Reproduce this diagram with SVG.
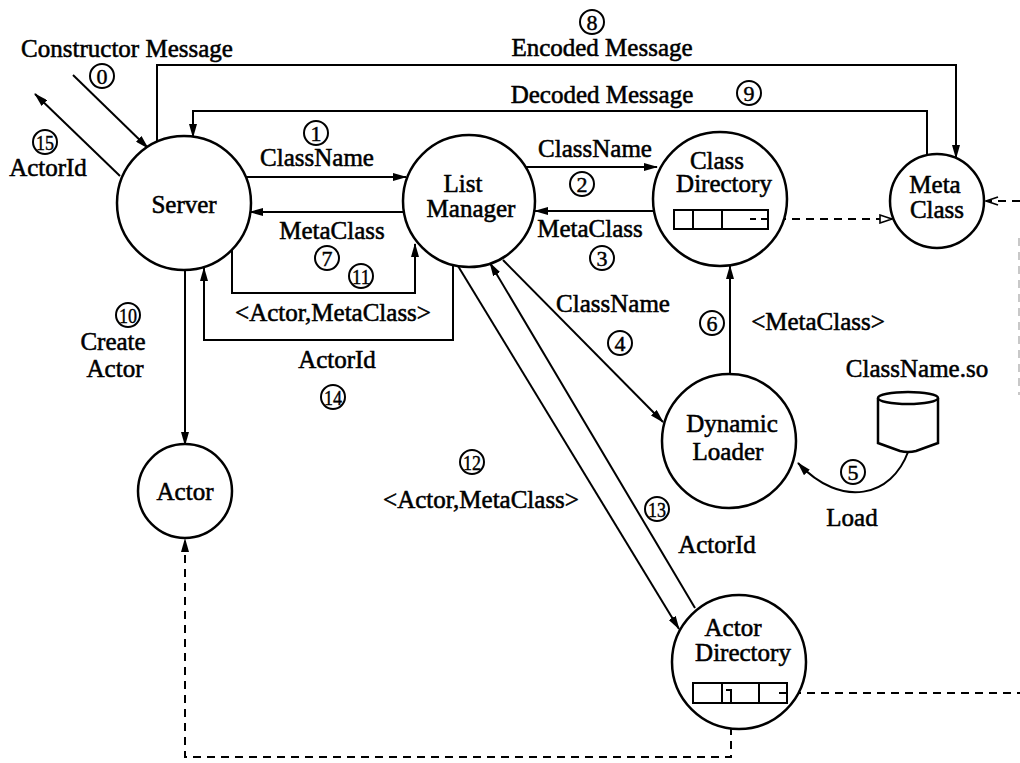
<svg xmlns="http://www.w3.org/2000/svg" width="1020" height="763" viewBox="0 0 1020 763">
<style>
text{font-family:"Liberation Serif","Times New Roman",serif;font-size:25px;fill:#000;stroke:#000;stroke-width:0.55;text-anchor:middle}
.node{fill:#fff;stroke:#000;stroke-width:2.5}
.ln{fill:none;stroke:#000;stroke-width:2}
.ds{fill:none;stroke:#000;stroke-width:2;stroke-dasharray:8 6}
.num circle{fill:none;stroke:#000;stroke-width:2}
.num text{font-size:22px;stroke-width:0.45}
.tbl{fill:none;stroke:#000;stroke-width:2}
</style>
<defs>
<marker id="ah" viewBox="0 0 14 8" refX="13" refY="4" markerWidth="14" markerHeight="8" markerUnits="userSpaceOnUse" orient="auto"><path d="M0,0 L14,4 L0,8 Z" fill="#000"/></marker>
<marker id="hollow" viewBox="0 0 14 10" refX="13" refY="5" markerWidth="14" markerHeight="10" markerUnits="userSpaceOnUse" orient="auto"><path d="M1,1 L13,5 L1,9 Z" fill="#fff" stroke="#000" stroke-width="1.6"/></marker>
<marker id="openv" viewBox="0 0 14 10" refX="13" refY="5" markerWidth="14" markerHeight="10" markerUnits="userSpaceOnUse" orient="auto"><path d="M1,1 L13,5 L1,9" fill="none" stroke="#000" stroke-width="1.8"/></marker>
</defs>
<rect width="1020" height="763" fill="#fff"/>

<g id="connectors">
<line class="ln" x1="73" y1="75" x2="148" y2="148" marker-end="url(#ah)"/>
<line class="ln" x1="120" y1="176" x2="35" y2="94" marker-end="url(#ah)"/>
<path class="ln" d="M157,143 V65 H956 V158" marker-end="url(#ah)"/>
<path class="ln" d="M927,155 V111 H193 V137" marker-end="url(#ah)"/>
<line class="ln" x1="245" y1="177" x2="406" y2="177" marker-end="url(#ah)"/>
<line class="ln" x1="404" y1="212" x2="250" y2="212" marker-end="url(#ah)"/>
<path class="ln" d="M232,250 V293 H415 V244" marker-end="url(#ah)"/>
<path class="ln" d="M453,266 V340 H204 V268" marker-end="url(#ah)"/>
<line class="ln" x1="185" y1="270" x2="185" y2="445" marker-end="url(#ah)"/>
<line class="ln" x1="525" y1="167" x2="657" y2="167" marker-end="url(#ah)"/>
<line class="ln" x1="653" y1="211" x2="535" y2="211" marker-end="url(#ah)"/>
<line class="ln" x1="503" y1="260" x2="663" y2="422" marker-end="url(#ah)"/>
<line class="ln" x1="458" y1="266" x2="679" y2="629" marker-end="url(#ah)"/>
<line class="ln" x1="695" y1="608" x2="490" y2="263" marker-end="url(#ah)"/>
<line class="ln" x1="730" y1="374" x2="730" y2="266" marker-end="url(#ah)"/>
<path class="ln" d="M908,452 C892,496 842,510 798,463" marker-end="url(#ah)"/>
<path class="ds" d="M750,219 H892" marker-end="url(#hollow)"/>
<path class="ds" d="M1020,201 H986" marker-end="url(#openv)"/>
<path d="M1019,238 V395" fill="none" stroke="#c8c8c8" stroke-width="2" stroke-dasharray="8 6"/>
<path class="ds" d="M726,690 H731 V757 H185 V539" marker-end="url(#ah)"/>
<path class="ds" d="M779,693 H1020"/>
</g>

<g id="server"><circle class="node" cx="184" cy="203" r="67"/><text x="184" y="213">Server</text></g>
<g id="list-manager"><circle class="node" cx="469" cy="201" r="66"/><text x="463" y="192">List</text><text x="471" y="217">Manager</text></g>
<g id="class-directory"><circle class="node" cx="720" cy="199" r="67"/><text x="717" y="169">Class</text><text x="724" y="192">Directory</text>
<rect class="tbl" x="674" y="210" width="94" height="19" fill="#fff"/><line class="tbl" x1="693" y1="210" x2="693" y2="229"/><line class="tbl" x1="722" y1="210" x2="722" y2="229"/><line class="ln" x1="750" y1="219" x2="768" y2="219" stroke-dasharray="6 5"/></g>
<g id="meta-class"><circle class="node" cx="937" cy="201" r="47"/><text x="935" y="193">Meta</text><text x="937" y="218">Class</text></g>
<g id="actor"><circle class="node" cx="185" cy="491" r="47"/><text x="185" y="500">Actor</text></g>
<g id="dynamic-loader"><circle class="node" cx="729" cy="441" r="67"/><text x="732" y="432">Dynamic</text><text x="728" y="460">Loader</text></g>
<g id="actor-directory"><circle class="node" cx="739" cy="662" r="67"/><text x="733" y="636">Actor</text><text x="743" y="661">Directory</text>
<rect class="tbl" x="693" y="683" width="94" height="20" fill="#fff"/><line class="tbl" x1="722" y1="683" x2="722" y2="703"/><line class="tbl" x1="759" y1="683" x2="759" y2="703"/>
<path class="ln" d="M726,690 H731 V703"/><line class="ln" x1="779" y1="693" x2="787" y2="693"/></g>
<g id="classname-so"><path class="node" d="M878,398 V443 L900,451 Q908,453 916,451 L938,443 V398"/><ellipse class="node" cx="908" cy="398" rx="30" ry="6"/><text x="917" y="377">ClassName.so</text></g>

<g id="labels">
<text x="127" y="57">Constructor Message</text>
<text x="48" y="176">ActorId</text>
<text x="602" y="56">Encoded Message</text>
<text x="602" y="103">Decoded Message</text>
<text x="317" y="166">ClassName</text>
<text x="332" y="239">MetaClass</text>
<text x="333" y="321">&lt;Actor,MetaClass&gt;</text>
<text x="337" y="368">ActorId</text>
<text x="113" y="350">Create</text>
<text x="115" y="377">Actor</text>
<text x="595" y="157">ClassName</text>
<text x="590" y="237">MetaClass</text>
<text x="613" y="312">ClassName</text>
<text x="818" y="330">&lt;MetaClass&gt;</text>
<text x="852" y="526">Load</text>
<text x="481" y="508">&lt;Actor,MetaClass&gt;</text>
<text x="717" y="553">ActorId</text>
</g>

<g class="num" id="step-numbers">
<circle cx="102" cy="76" r="12"/><text x="102" y="84">0</text>
<circle cx="592" cy="22" r="12"/><text x="592" y="30">8</text>
<circle cx="749" cy="93" r="12"/><text x="749" y="101">9</text>
<circle cx="316" cy="133" r="12"/><text x="316" y="141">1</text>
<circle cx="582" cy="184" r="12"/><text x="582" y="192">2</text>
<circle cx="602" cy="258" r="12"/><text x="602" y="266">3</text>
<circle cx="620" cy="343" r="12"/><text x="620" y="351">4</text>
<circle cx="853" cy="472" r="12"/><text x="853" y="480">5</text>
<circle cx="712" cy="323" r="12"/><text x="712" y="331">6</text>
<circle cx="327" cy="258" r="12"/><text x="327" y="266">7</text>
<circle cx="128" cy="315" r="12"/><text x="128" y="323" textLength="18" lengthAdjust="spacingAndGlyphs">10</text>
<circle cx="361" cy="276" r="12"/><text x="361" y="284" textLength="18" lengthAdjust="spacingAndGlyphs">11</text>
<circle cx="472" cy="462" r="12"/><text x="472" y="470" textLength="18" lengthAdjust="spacingAndGlyphs">12</text>
<circle cx="657" cy="509" r="12"/><text x="657" y="517" textLength="18" lengthAdjust="spacingAndGlyphs">13</text>
<circle cx="333" cy="397" r="12"/><text x="333" y="405" textLength="18" lengthAdjust="spacingAndGlyphs">14</text>
<circle cx="45" cy="142" r="12"/><text x="45" y="150" textLength="18" lengthAdjust="spacingAndGlyphs">15</text>
</g>
</svg>
